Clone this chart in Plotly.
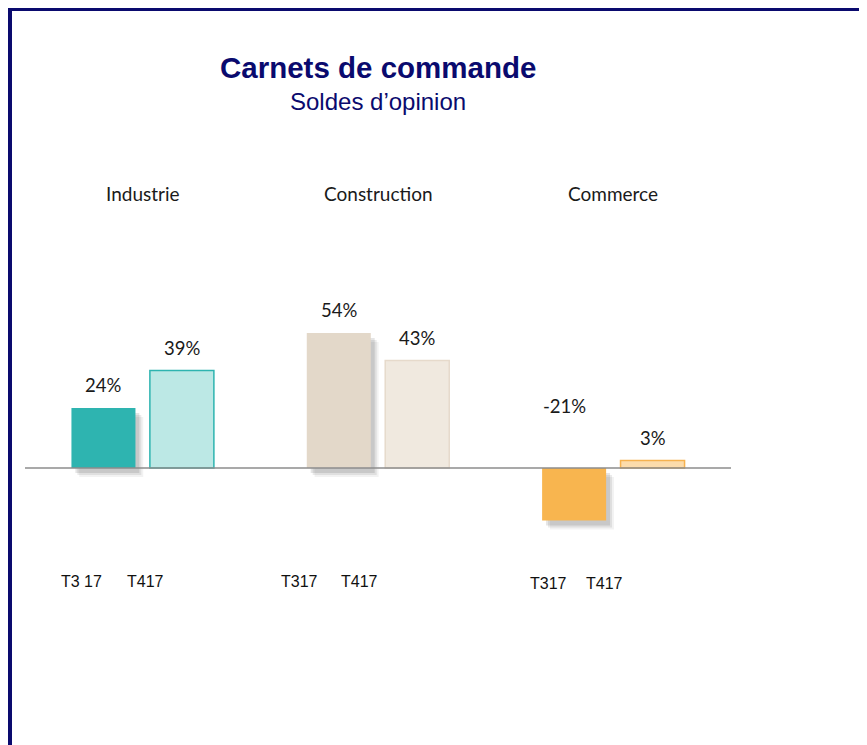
import plotly.graph_objects as go

# data
sectors = ["Industrie", "Construction", "Commerce"]
periods = ["T3 17", "T4 17"]
t3_values = [24, 54, -21]
t4_values = [39, 43, 3]
tick_labels = [["T3 17", "T417"], ["T317", "T417"], ["T317", "T417"]]

# styles
t3_colors = ["#2eb4b0", "#e3d8c9", "#f8b54f"]
t4_fill = ["#bce8e5", "#f0e9df", "#fcdcab"]
t4_line = ["#2eb4b0", "#e6dacb", "#f6b24f"]
navy = "#0a0a6e"
label_font = "Lato, Open Sans, sans-serif"

# page has an 8px body margin, so the figure is 8px smaller than the window
W, H = 859, 737
x_t3 = [3 * i for i in range(len(sectors))]
x_t4 = [3 * i + 1 for i in range(len(sectors))]
bar_w = 0.816

fig = go.Figure()

# soft shadow under the T3 bars
for dx, dy, op in [(0.1, -3.6, 0.05), (0.075, -2.8, 0.08), (0.05, -2.0, 0.10)]:
    fig.add_trace(go.Bar(
        x=[x + dx for x in x_t3], y=t3_values, base=[dy] * len(t3_values),
        width=bar_w, marker_color=f"rgba(0,0,0,{op})", marker_line_width=0,
        hoverinfo="skip", showlegend=False
    ))

fig.add_trace(go.Bar(
    x=x_t3, y=t3_values, width=bar_w, name=periods[0],
    marker=dict(color=t3_colors, line=dict(width=0)), showlegend=False
))
fig.add_trace(go.Bar(
    x=x_t4, y=t4_values, width=bar_w, name=periods[1],
    marker=dict(color=t4_fill, line=dict(color=t4_line, width=1.5)), showlegend=False
))

# value labels
for xs, vals in [(x_t3, t3_values), (x_t4, t4_values)]:
    for x, v in zip(xs, vals):
        fig.add_annotation(
            x=x, y=max(v, 0), text=f"{v}%", showarrow=False,
            yanchor="middle", yshift=23 if v >= 0 else 62,
            xshift=0 if v >= 0 else -10,
            font=dict(family=label_font, size=18.5, color="#1a1a1a")
        )

# sector labels
for i, s in enumerate(sectors):
    fig.add_annotation(
        x=3 * i + 0.5, y=110, text=s, showarrow=False,
        font=dict(family=label_font, size=19, color="#1a1a1a")
    )

# period labels (text boxes, not aligned to bars)
tick_shifts = [[-22, -36], [-39, -58], [-26, -48]]
tick_yshift = [0, 0, -2]
for i, pair in enumerate(tick_labels):
    for j, t in enumerate(pair):
        fig.add_annotation(
            x=3 * i + j, y=-45.2, text=t, showarrow=False,
            xshift=tick_shifts[i][j], yshift=tick_yshift[i],
            font=dict(family="Liberation Sans, Arial", size=16, color="#111111")
        )

# title
fig.add_annotation(
    xref="paper", yref="paper", x=0.5, y=1 - 60 / H, text="<b>Carnets de commande</b>",
    showarrow=False, yanchor="middle",
    font=dict(family="Liberation Sans, Arial", size=29.5, color=navy)
)
fig.add_annotation(
    xref="paper", yref="paper", x=0.5, y=1 - 94 / H, text="Soldes d\u2019opinion",
    showarrow=False, yanchor="middle",
    font=dict(family="Liberation Sans, Arial", size=24, color=navy)
)

# zero line
fig.add_shape(type="line", x0=-1, x1=8, y0=0, y1=0,
              line=dict(color="#8c8c8c", width=1.5))

# frame
left_x = (2 - 17) / 706
fig.add_shape(type="line", xref="paper", yref="paper",
              x0=left_x, x1=1.25, y0=1 - 1 / H, y1=1 - 1 / H,
              line=dict(color=navy, width=4))
fig.add_shape(type="line", xref="paper", yref="paper",
              x0=left_x, x1=left_x, y0=-0.05, y1=1.01,
              line=dict(color=navy, width=4))

fig.update_layout(
    width=W, height=H,
    barmode="overlay",
    plot_bgcolor="white", paper_bgcolor="white",
    margin=dict(l=17, r=136, t=0, b=0),
    showlegend=False
)
fig.update_xaxes(range=[-1, 8], visible=False, fixedrange=True)
fig.update_yaxes(range=[-110.8, 184], visible=False, fixedrange=True)

fig.write_html("out.html")
